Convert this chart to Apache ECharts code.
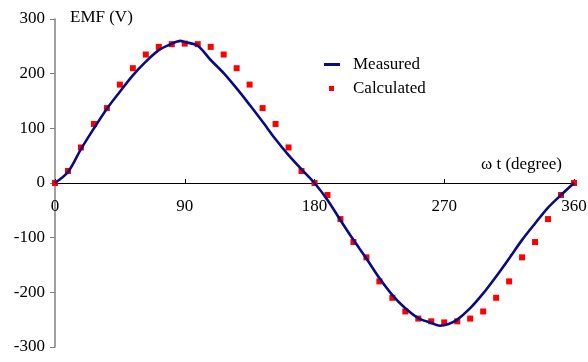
<!DOCTYPE html>
<html>
<head>
<meta charset="utf-8">
<script src="https://cdn.jsdelivr.net/npm/echarts@6/dist/echarts.min.js"></script>
<style>
  html, body { margin: 0; padding: 0; background: #fff; }
  #chart { width: 588px; height: 362px; }
</style>
</head>
<body>
<div id="chart"></div>
<script>
// measured EMF
var measuredDeg = [0, 9, 18, 27, 36, 45, 54, 63, 72, 81, 87, 90, 99, 108, 117, 126, 135, 144, 153, 162, 171, 180,
  189, 198, 207, 216, 225, 234, 243, 252, 261, 267, 273, 279, 288, 297, 306, 315, 324, 333, 342, 351, 360];
var measuredEmf = [0, 20, 62, 100, 136, 167, 197, 222, 243, 255, 260, 258, 251, 225, 201, 173, 143, 112, 80, 51, 25, 0,
  -31, -68, -104, -138, -174, -205, -229, -247, -256, -261, -258, -250, -229, -202, -171, -138, -104, -74, -45, -22, 0];

// calculated EMF, every 9 degrees
var calcDeg = [0, 9, 18, 27, 36, 45, 54, 63, 72, 81, 90, 99, 108, 117, 126, 135, 144, 153, 162, 171, 180,
  189, 198, 207, 216, 225, 234, 243, 252, 261, 270, 279, 288, 297, 306, 315, 324, 333, 342, 351, 360];
var calcEmf = [0, 22, 65, 108, 137, 180, 210, 235, 249, 254, 255, 254, 249, 235, 210, 180, 137, 108, 65, 22, 0,
  -22, -66, -108, -136, -180, -210, -235, -248, -253, -255, -253, -248, -235, -210, -180, -136, -108, -66, -22, 0];

var font = 'Liberation Serif';

function pairs(xs, ys) {
  var out = [];
  for (var i = 0; i < xs.length; i++) out.push([xs[i], ys[i]]);
  return out;
}

var chart = echarts.init(document.getElementById('chart'));
chart.setOption({
  animation: false,
  textStyle: { fontFamily: font },
  grid: { left: 55, right: 14, top: 19, bottom: 15, containLabel: false, outerBoundsMode: 'none' },
  legend: [
    {
      data: [{ name: 'Measured', icon: 'rect', itemStyle: { color: '#0a0a84' } }],
      left: 324, top: 56, padding: 0,
      itemWidth: 16, itemHeight: 3,
      textStyle: { fontFamily: font, fontSize: 17, color: '#000', padding: [0, 0, 0, 8] }
    },
    {
      data: [{ name: 'Calculated', icon: 'rect' }],
      left: 329, top: 80, padding: 0,
      itemWidth: 5, itemHeight: 5,
      textStyle: { fontFamily: font, fontSize: 17, color: '#000', padding: [0, 0, 0, 14] }
    }
  ],
  xAxis: {
    type: 'value',
    min: 0, max: 360, interval: 90,
    position: 'bottom',
    offset: -164,
    name: 'ω t (degree)',
    nameLocation: 'end',
    nameGap: -12,
    nameTextStyle: { fontFamily: font, fontSize: 17, color: '#000', align: 'right', verticalAlign: 'bottom', padding: [0, 0, 10, 0] },
    axisLine: { onZero: false, lineStyle: { color: '#000', width: 1 } },
    axisTick: { inside: true, length: 4, lineStyle: { color: '#000' } },
    axisLabel: { fontFamily: font, fontSize: 17, color: '#000', margin: 15 },
    splitLine: { show: false }
  },
  yAxis: {
    type: 'value',
    min: -300, max: 300, interval: 100,
    name: 'EMF (V)',
    nameLocation: 'end',
    nameGap: 1,
    nameTextStyle: { fontFamily: font, fontSize: 17, color: '#000', align: 'left', verticalAlign: 'middle', padding: [0, 0, 0, 15] },
    axisLine: { show: true, onZero: false, lineStyle: { color: '#808080', width: 1.5 } },
    axisTick: { show: true, inside: false, length: 5, lineStyle: { color: '#808080' } },
    axisLabel: { fontFamily: font, fontSize: 17, color: '#000', margin: 10 },
    splitLine: { show: false }
  },
  series: [
    {
      name: 'Measured',
      type: 'line',
      data: pairs(measuredDeg, measuredEmf),
      smooth: 0.3,
      showSymbol: false,
      symbol: 'none',
      lineStyle: { color: '#0a0a84', width: 2.6 },
      itemStyle: { color: '#0a0a84' }
    },
    {
      name: 'Calculated',
      type: 'scatter',
      data: pairs(calcDeg, calcEmf),
      symbol: 'rect',
      symbolSize: 6,
      itemStyle: { color: '#ff0000', opacity: 1 }
    }
  ]
});
</script>
</body>
</html>
